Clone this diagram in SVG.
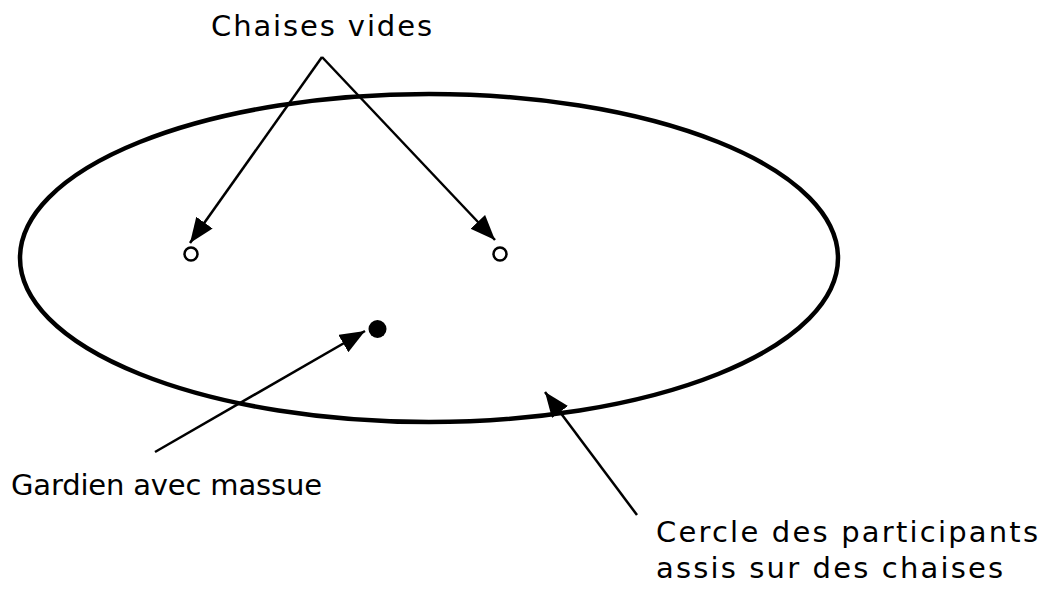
<svg xmlns="http://www.w3.org/2000/svg" width="1051" height="595" viewBox="0 0 1051 595">
<style>
.lbl{font-family:"DejaVu Sans",Verdana,sans-serif;font-size:29px;fill:#000}
.conn{stroke:#000;stroke-width:2.5;fill:none}
</style>
<defs>
<marker id="ah" markerUnits="userSpaceOnUse" markerWidth="28" markerHeight="24" refX="25" refY="10" orient="auto">
<path d="M0,0 L25,10 L0,20 Z" fill="#000"/>
</marker>
</defs>
<rect width="1051" height="595" fill="#fff"/>
<g id="cercle">
<ellipse cx="429" cy="258" rx="409" ry="164" fill="none" stroke="#000" stroke-width="4.5"/>
</g>
<g id="chaise1"><circle cx="191" cy="254" r="6.5" fill="#fff" stroke="#000" stroke-width="2.5"/></g>
<g id="chaise2"><circle cx="500" cy="254" r="6.5" fill="#fff" stroke="#000" stroke-width="2.5"/></g>
<g id="gardien"><circle cx="377.5" cy="329" r="9" fill="#000"/></g>
<g id="connectors">
<line class="conn" x1="322" y1="57" x2="190" y2="243" marker-end="url(#ah)"/>
<line class="conn" x1="322" y1="57" x2="495" y2="240" marker-end="url(#ah)"/>
<line class="conn" x1="155" y1="452" x2="365" y2="331" marker-end="url(#ah)"/>
<line class="conn" x1="637" y1="515" x2="545" y2="392" marker-end="url(#ah)"/>
</g>
<g id="labels">
<text class="lbl" x="211" y="36" textLength="221" lengthAdjust="spacing">Chaises vides</text>
<text class="lbl" x="11" y="495" textLength="311" lengthAdjust="spacing">Gardien avec massue</text>
<text class="lbl" x="656" y="542" textLength="382" lengthAdjust="spacing">Cercle des participants</text>
<text class="lbl" x="656" y="578" textLength="347" lengthAdjust="spacing">assis sur des chaises</text>
</g>
</svg>
